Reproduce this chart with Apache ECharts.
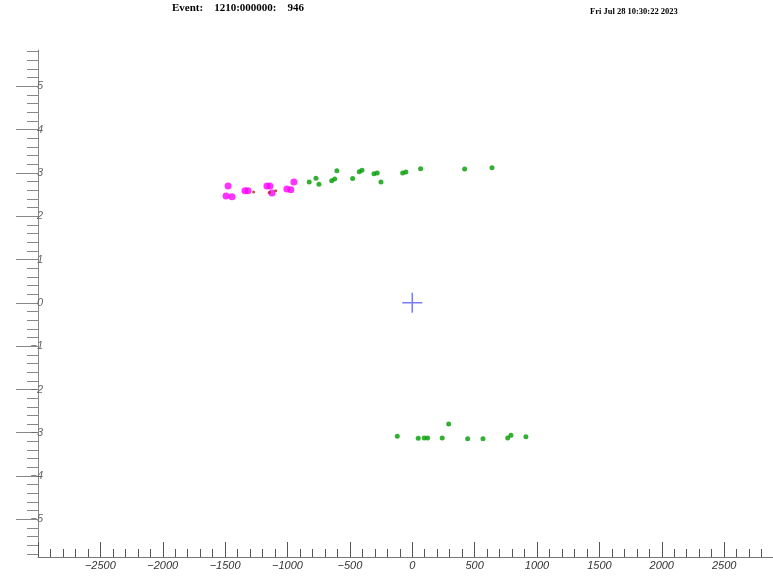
<!DOCTYPE html>
<html>
<head>
<meta charset="utf-8">
<script src="https://cdn.jsdelivr.net/npm/echarts@6/dist/echarts.min.js"></script>
<style>html,body{margin:0;padding:0;background:#fff}#c{width:773px;height:576px}</style>
</head>
<body>
<div id="c"></div>
<script>
// ---- data ----
const TITLE_TEXT = 'Event:    1210:000000:    946';
const DATE_TEXT = 'Fri Jul 28 10:30:22 2023';

const X_MIN = -3000, X_MAX = 3000, X_INTERVAL = 500;
const Y_MIN = -5.87, Y_MAX = 5.84;
const Y_MAJOR_TICKS = [-5, -4, -3, -2, -1, 0, 1, 2, 3, 4, 5];

const magentaX = [-1477, -1493, -1445, -1341, -1317, -1165, -1141, -1125, -1005, -973, -949];
const magentaY = [2.70, 2.47, 2.45, 2.59, 2.59, 2.70, 2.70, 2.54, 2.63, 2.61, 2.79];

const darkRedX = [-1272, -1147, -1095];
const darkRedY = [2.56, 2.55, 2.59];

const greenTopX = [-826, -772, -748, -646, -622, -604, -478, -425, -403, -307, -281, -251, -77, -51, 67, 420, 639];
const greenTopY = [2.79, 2.88, 2.74, 2.82, 2.86, 3.05, 2.87, 3.03, 3.06, 2.98, 3.00, 2.79, 3.00, 3.02, 3.10, 3.09, 3.12];

const greenBotX = [-120, 48, 96, 123, 240, 292, 444, 567, 765, 791, 911];
const greenBotY = [-3.08, -3.13, -3.12, -3.12, -3.12, -2.80, -3.14, -3.14, -3.12, -3.06, -3.09];

const crossX = [0];
const crossY = [0];

// ---- build ----
const zip = (xs, ys) => xs.map((x, i) => [x, ys[i]]);
const yMinorTicks = [];
for (let k = Math.ceil(Y_MIN * 5); k <= Math.floor(Y_MAX * 5); k++) {
  if (k % 5 !== 0) yMinorTicks.push(k / 5);
}
const fmtNum = v => (v < 0 ? '\u2212' + Math.abs(v) : String(v));

const chart = echarts.init(document.getElementById('c'), null, {renderer: 'canvas'});
chart.setOption({
  animation: false,
  backgroundColor: '#ffffff',
  grid: {left: 38, width: 748.5, top: 50, bottom: 19, containLabel: false, outerBoundsMode: 'none'},
  graphic: [
    {type: 'text', left: 172, top: 3, style: {text: TITLE_TEXT, font: 'bold 11px "Liberation Serif", serif', fill: '#000'}},
    {type: 'text', left: 590, top: 7, style: {text: DATE_TEXT, font: 'bold 8.5px "Liberation Serif", serif', fill: '#000'}}
  ],
  xAxis: {
    type: 'value', min: X_MIN, max: X_MAX, interval: X_INTERVAL,
    position: 'bottom',
    axisLine: {show: true, onZero: false, lineStyle: {color: '#777', width: 1}},
    axisTick: {show: true, inside: true, length: 15, lineStyle: {color: '#555', width: 1}},
    minorTick: {show: true, splitNumber: 5, length: 8, lineStyle: {color: '#555', width: 1}},
    axisLabel: {
      show: true, margin: 3, color: '#333', fontSize: 11, fontStyle: 'italic',
      fontFamily: '"Liberation Sans", Arial, sans-serif',
      formatter: v => (v <= X_MIN || v >= X_MAX) ? '' : fmtNum(v)
    },
    splitLine: {show: false}
  },
  yAxis: [
    {
      type: 'value', min: Y_MIN, max: Y_MAX, position: 'left',
      axisLine: {show: true, onZero: false, lineStyle: {color: '#888', width: 1}},
      axisTick: {show: true, inside: false, length: 22, customValues: Y_MAJOR_TICKS, lineStyle: {color: '#888', width: 1}},
      axisLabel: {
        show: true, margin: -5, color: '#666', fontSize: 11, fontStyle: 'italic',
        fontFamily: '"Liberation Sans", Arial, sans-serif',
        customValues: Y_MAJOR_TICKS, formatter: v => fmtNum(v)
      },
      splitLine: {show: false}
    },
    {
      type: 'value', min: Y_MIN, max: Y_MAX, position: 'left', offset: 0,
      axisLine: {show: false, onZero: false},
      axisTick: {show: true, inside: false, length: 11, customValues: yMinorTicks, lineStyle: {color: '#888', width: 1}},
      axisLabel: {show: false},
      splitLine: {show: false}
    }
  ],
  series: [
    {type: 'scatter', data: zip(greenTopX, greenTopY), symbolSize: 5, itemStyle: {color: '#009c00'}},
    {type: 'scatter', data: zip(greenBotX, greenBotY), symbolSize: 5, itemStyle: {color: '#009c00'}},
    {type: 'scatter', data: zip(magentaX, magentaY), symbolSize: 7, itemStyle: {color: '#ff00ff'}},
    {type: 'scatter', data: zip(darkRedX, darkRedY), symbolSize: 3, itemStyle: {color: '#b22222'}},
    {type: 'scatter', data: zip(crossX, crossY), symbol: 'path://M9.25,0h1.5v20h-1.5zM0,9.25h20v1.5h-20z', symbolSize: 20, itemStyle: {color: '#5a5af0'}}
  ]
});
</script>
</body>
</html>
